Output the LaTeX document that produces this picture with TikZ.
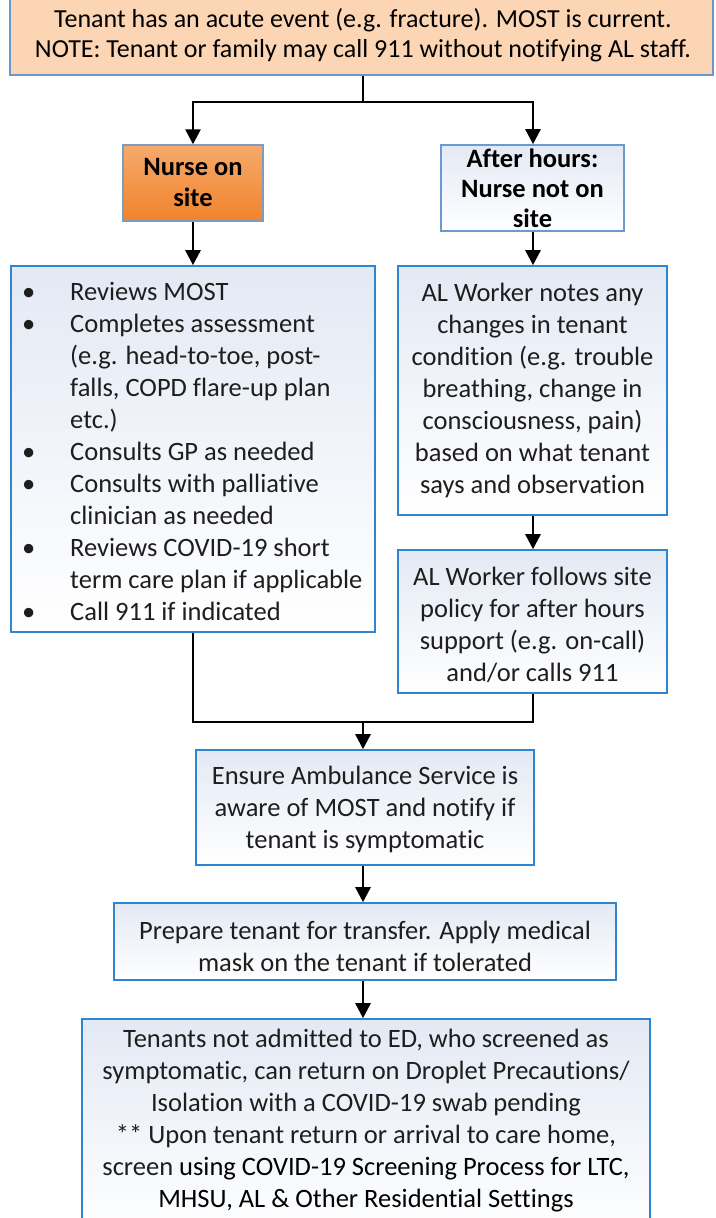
\documentclass[tikz,border=0pt]{standalone}
\usepackage{fontspec}
\setmainfont[Ligatures=NoCommon]{Carlito}
\usetikzlibrary{arrows.meta}
\definecolor{peach}{HTML}{FCD5B5}
\definecolor{peachborder}{HTML}{6A98CC}
\definecolor{orangetop}{HTML}{F6AA6C}
\definecolor{orangebot}{HTML}{F1832B}
\definecolor{orangeborder}{HTML}{7F9BBE}
\definecolor{boxblue}{HTML}{2F86D0}
\definecolor{softblue}{HTML}{6C9AD0}
\definecolor{fillblue}{HTML}{E3E9F4}
\definecolor{txt}{HTML}{1E1E1E}
\tikzset{
  box/.style={draw=boxblue, line width=1.6pt, top color=fillblue, bottom color=white, inner sep=0pt, text=txt, align=center},
  bodyfont/.style={font=\fontsize{26.5}{32}\selectfont},
  conn/.style={line width=2.6pt, black},
  arr/.style={conn, -{Triangle[width=15pt,length=15pt]}},
}
\begin{document}
\begin{tikzpicture}[x=1pt,y=-1pt]
\useasboundingbox (0,0) rectangle (715,1218);
% top box
\node[draw=peachborder, line width=2pt, fill=peach, inner sep=0pt, minimum width=703pt, minimum height=84pt] (top) at (361.5,33) {};
\node[align=center, font=\fontsize{26}{30}\selectfont] (toptext) at (363,35) {Tenant has an acute event (e.g. fracture). MOST is current.\\NOTE: Tenant or family may call 911 without notifying AL staff.};
% nurse on site
\node[draw=orangeborder, line width=1.4pt, top color=orangetop, bottom color=orangebot, inner sep=0pt, minimum width=140pt, minimum height=76pt] (nurse) at (193,183) {};
\node[align=center, font=\bfseries\fontsize{26.5}{31}\selectfont] (nursetext) at (193,183) {Nurse on\\site};
% after hours
\node[draw=softblue, line width=1.6pt, top color=fillblue, bottom color=white, inner sep=0pt, minimum width=183pt, minimum height=86pt] (after) at (532.5,188) {};
\node[align=center, font=\bfseries\fontsize{26.5}{30}\selectfont] (aftertext) at (532.5,188) {After hours:\\Nurse not on\\site};
% left list box
\node[box, minimum width=364pt, minimum height=366pt] (left) at (193,449) {};
\node[anchor=west, align=left, bodyfont, text=txt, inner sep=0pt] (lefttext) at (22,454) {%
\begin{tabular}{@{}p{48pt}@{}l@{}}
\textbullet & Reviews MOST\\
\textbullet & Completes assessment\\
 & (e.g. head-to-toe, post-\\
 & falls, COPD flare-up plan\\
 & etc.)\\
\textbullet & Consults GP as needed\\
\textbullet & Consults with palliative\\
 & clinician as needed\\
\textbullet & Reviews COVID-19 short\\
 & term care plan if applicable\\
\textbullet & Call 911 if indicated
\end{tabular}};
% right boxes
\node[box, minimum width=269pt, minimum height=249pt] (r1) at (532.5,390.5) {};
\node[align=center, bodyfont, text=txt] (r1text) at (532.5,390) {AL Worker notes any\\changes in tenant\\condition (e.g. trouble\\breathing, change in\\consciousness, pain)\\based on what tenant\\says and observation};
\node[box, minimum width=269pt, minimum height=143pt] (r2) at (532.5,621.5) {};
\node[align=center, bodyfont, text=txt] (r2text) at (532.5,625) {AL Worker follows site\\policy for after hours\\support (e.g. on-call)\\and/or calls 911};
% ambulance
\node[box, minimum width=338pt, minimum height=115pt] (amb) at (365,807.5) {};
\node[align=center, bodyfont, text=txt] (ambtext) at (365,809) {Ensure Ambulance Service is\\aware of MOST and notify if\\tenant is symptomatic};
% prepare
\node[box, minimum width=502pt, minimum height=77pt] (prep) at (365,941.5) {};
\node[align=center, bodyfont, text=txt] (preptext) at (365,946) {Prepare tenant for transfer. Apply medical\\mask on the tenant if tolerated};
% bottom
\node[box, minimum width=568pt, minimum height=215pt] (bot) at (366,1126.5) {};
\node[align=center, bodyfont, text=txt] (bottext) at (366,1121) {Tenants not admitted to ED, who screened as\\symptomatic, can return on Droplet Precautions/\\Isolation with a COVID-19 swab pending\\** Upon tenant return or arrival to care home,\\screen {\color{black}using COVID-19 Screening Process for LTC,}\\{\color{black}MHSU, AL \& Other Residential Settings}};
% connectors
\coordinate (split) at (363,102);
\draw[conn] (top.south -| split) -- (split);
\draw[arr] (split) -| (nurse.north);
\draw[arr] (split) -| (after.north -| 533,0);
\draw[arr] (nurse.south) -- (left.north);
\draw[arr] (after.south -| 533,0) -- (r1.north -| 533,0);
\draw[arr] (r1.south -| 533,0) -- (r2.north -| 533,0);
\coordinate (merge) at (363,722);
\draw[conn] (left.south) |- (merge);
\draw[conn] (r2.south -| 533,0) |- (merge);
\draw[arr] (merge) -- (amb.north -| merge);
\draw[arr] (amb.south -| merge) -- (prep.north -| merge);
\draw[arr] (prep.south -| merge) -- (bot.north -| merge);
\end{tikzpicture}
\end{document}
